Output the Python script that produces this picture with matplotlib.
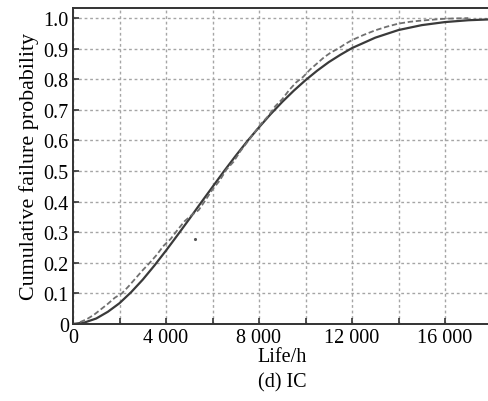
import numpy as np
import matplotlib
matplotlib.use("Agg")
import matplotlib.pyplot as plt
from matplotlib.ticker import FuncFormatter, MultipleLocator

# fitted distribution curve
fit_life = [0, 500, 1000, 1500, 2000, 2500, 3000, 3500, 4000, 4500, 5000, 5500,
            6000, 6500, 7000, 7500, 8000, 8500, 9000, 9500, 10000, 10500, 11000,
            11500, 12000, 13000, 14000, 15000, 16000, 17000, 18000]
fit_prob = [0, 0.005, 0.018, 0.040, 0.068, 0.104, 0.145, 0.191, 0.240, 0.291,
            0.343, 0.396, 0.448, 0.500, 0.550, 0.598, 0.643, 0.686, 0.726, 0.763,
            0.797, 0.828, 0.856, 0.880, 0.902, 0.936, 0.961, 0.977, 0.987, 0.993, 0.996]

# empirical failure data (dashed)
emp_life = [300, 600, 900, 1200, 1500, 1800, 2100, 2400, 2700, 3000, 3300, 3600,
            3900, 4200, 4500, 4800, 5100, 5400, 5700, 6000, 6300, 6600, 6900,
            7200, 7500, 7800, 8100, 8400, 8700, 9000, 9300, 9600, 9900, 10200,
            10500, 10800, 11100, 11400, 11700, 12000, 12500, 13000, 13500, 14000,
            14500, 15000, 15500, 16000, 16500, 17000]
emp_prob = [0.006, 0.016, 0.030, 0.048, 0.066, 0.086, 0.100, 0.124, 0.150, 0.176,
            0.200, 0.226, 0.256, 0.278, 0.308, 0.336, 0.356, 0.372, 0.405, 0.440,
            0.468, 0.505, 0.530, 0.565, 0.595, 0.625, 0.655, 0.680, 0.712, 0.735,
            0.765, 0.790, 0.808, 0.832, 0.852, 0.872, 0.888, 0.900, 0.915, 0.928,
            0.945, 0.960, 0.972, 0.982, 0.988, 0.992, 0.995, 0.998, 0.999, 1.0]

# stray point
odd_life = [5250]
odd_prob = [0.278]

plt.rcParams['font.family'] = ['Liberation Serif', 'DejaVu Serif']
plt.rcParams['font.size'] = 14.5

fig = plt.figure(figsize=(4.88, 4.02), dpi=100)
ax = fig.add_axes([73 / 488, 1 - 325 / 402, 418.5 / 488, 316 / 402])

ax.plot(fit_life, fit_prob, color='#3a3a3a', lw=1.6, zorder=3)
ax.plot(emp_life, emp_prob, color='#707070', lw=1.3, ls=(0, (3, 1.5)), zorder=4)
ax.plot(odd_life, odd_prob, ls='none', marker='.', ms=2.5, color='#555555')

ax.set_xlim(0, 18000)
ax.set_ylim(0, 1.033)
ax.xaxis.set_major_locator(MultipleLocator(2000))
ax.yaxis.set_major_locator(MultipleLocator(0.1))

def xfmt(v, pos):
    v = int(round(v))
    if v % 4000 != 0:
        return ''
    if v == 0:
        return '0'
    return '{:,}'.format(v).replace(',', ' ')

def yfmt(v, pos):
    if abs(v) < 1e-9:
        return '0'
    return '%.1f' % v

ax.xaxis.set_major_formatter(FuncFormatter(xfmt))
ax.yaxis.set_major_formatter(FuncFormatter(yfmt))
ax.tick_params(direction='in', length=4, width=1.2, color='#333333', pad=3)
ax.grid(True, color='#a5a5a5', ls=(0, (2, 2)), lw=1.0)
for s in ax.spines.values():
    s.set_color('#333333')
    s.set_linewidth(1.4)

ax.set_xlabel('Life/h', labelpad=0)
ax.set_ylabel('Cumulative failure probability', labelpad=3, fontsize=15.8)
fig.text(282 / 488, 1 - 383 / 402, '(d) IC', ha='center', va='center')

fig.savefig('out.png', dpi=100)
